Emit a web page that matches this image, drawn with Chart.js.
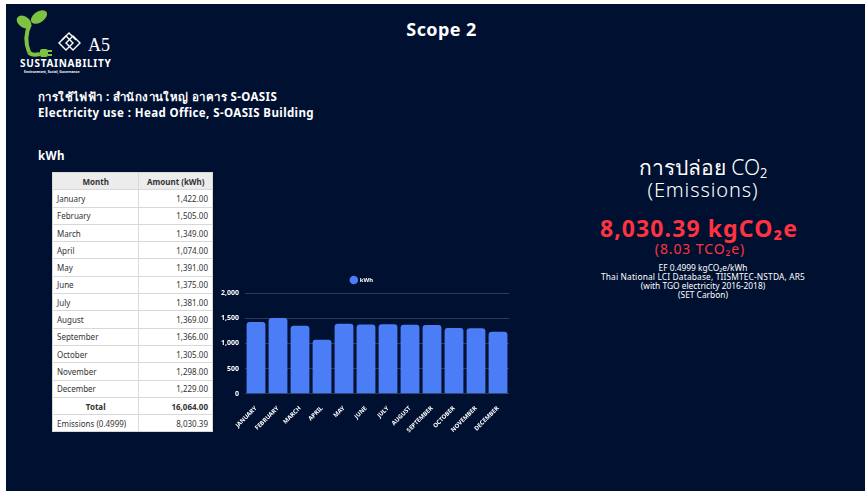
<!DOCTYPE html>
<html>
<head>
<meta charset="utf-8">
<script src="https://cdn.jsdelivr.net/npm/chart.js@4.4.0/dist/chart.umd.min.js"></script>
<style>
  html, body { margin: 0; padding: 0; background: #ffffff; }
  body { width: 865px; height: 491px; position: relative; overflow: hidden; font-family: "Noto Sans", "Open Sans", sans-serif; }
  #panel { position: absolute; left: 6px; top: 4px; width: 859px; height: 487px; background: #001030; color: #fff; }
  .abs { position: absolute; }
  #title { left: 0; width: 871px; top: 13px; text-align: center; font-size: 18px; font-weight: 700; letter-spacing: 0.4px; }
  .head { left: 32px; font-size: 11.5px; font-weight: 700; letter-spacing: 0.4px; }
  table { border-collapse: collapse; background: #fff; color: #333; font-size: 8px; }
  td, th { border: 1px solid #d8d8d8; height: 16.3px; padding: 0 4px; }
  th { background: #ececec; font-weight: 700; }
  .r { text-align: right; }
  .c { text-align: center; }
  .rt { left: 560px; width: 274px; text-align: center; white-space: nowrap; }
  .small { font-size: 8.4px; line-height: 9px; }
  #chartBox { left: 209px; top: 263px; width: 294px; height: 170px; }
</style>
</head>
<body>
<div id="panel">
  <svg class="abs" style="left:10px;top:6px" width="112" height="64" viewBox="0 0 112 64">
    <path d="M13 42 C9 32 10 22 14 14" stroke="#7dc242" stroke-width="4" fill="none"/>
    <ellipse cx="8" cy="12" rx="8" ry="5.5" fill="#7dc242" transform="rotate(35 8 12)"/>
    <ellipse cx="23" cy="7" rx="9" ry="5.5" fill="#7dc242" transform="rotate(-35 23 7)"/>
    <path d="M13 42 Q15 46 24 44" stroke="#7dc242" stroke-width="4" fill="none"/>
    <rect x="24" y="39" width="8" height="8" rx="2" fill="#7dc242"/>
    <rect x="32" y="40" width="4" height="2" fill="#7dc242"/>
    <rect x="32" y="44" width="4" height="2" fill="#7dc242"/>
    <g stroke="#fff" stroke-width="1.4" fill="none">
      <path d="M43 33 l7 -7 l7 7 l-7 7 z"/>
      <path d="M50 33 l7 -7 l7 7 l-7 7 z"/>
      <path d="M46 30 l7 -7 l7 7"/>
    </g>
    <text x="72" y="41" fill="#fff" font-family="Liberation Serif, serif" font-size="18">A5</text>
    <text x="4" y="57" fill="#fff" font-size="10" font-weight="700" letter-spacing="0.7">SUSTAINABILITY</text>
    <text x="8" y="62.5" fill="#fff" font-size="3.4" font-weight="700">Environment, Social, Governance</text>
  </svg>
  <div id="title" class="abs">Scope 2</div>
  <div class="abs head" style="top:84px">การใช้ไฟฟ้า : สำนักงานใหญ่ อาคาร S-OASIS</div>
  <div class="abs head" style="top:101px">Electricity use : Head Office, S-OASIS Building</div>
  <div class="abs head" style="top:144px">kWh</div>

  <table id="tbl" class="abs" style="left:46px;top:168px;width:161px"></table>

  <div id="chartBox" class="abs"><canvas id="kwh-chart"></canvas></div>

  <div class="abs rt" style="top:151px;font-size:21px;font-weight:300;line-height:24px">การปล่อย CO₂</div>
  <div class="abs rt" style="top:175px;font-size:20px;font-weight:300;line-height:22px;letter-spacing:0.9px">(Emissions)</div>
  <div class="abs rt" style="top:212px;color:#ff3340;font-size:23px;font-weight:700;line-height:25px;letter-spacing:1.1px;left:556px">8,030.39 kgCO₂e</div>
  <div class="abs rt" style="top:237px;color:#ff3340;font-size:14px;line-height:16px;letter-spacing:0.9px;left:557px">(8.03 TCO₂e)</div>
  <div class="abs rt small" style="top:259px">EF 0.4999 kgCO₂e/kWh</div>
  <div class="abs rt small" style="top:268px;letter-spacing:0.15px">Thai National LCI Database, TIISMTEC-NSTDA, AR5</div>
  <div class="abs rt small" style="top:277px">(with TGO electricity 2016-2018)</div>
  <div class="abs rt small" style="top:286px">(SET Carbon)</div>
</div>
<script>
const months = ['January', 'February', 'March', 'April', 'May', 'June', 'July', 'August', 'September', 'October', 'November', 'December'];
const kwh = [1422, 1505, 1349, 1074, 1391, 1375, 1381, 1369, 1366, 1305, 1298, 1229];
const totalKwh = 16064.00;
const emissionFactor = 0.4999;
const emissions = 8030.39;
const yTicks = [0, 500, 1000, 1500, 2000];

const fmt = v => v.toLocaleString('en-US', { minimumFractionDigits: 2, maximumFractionDigits: 2 });

// table
let html = '<tr><th>Month</th><th>Amount (kWh)</th></tr>';
months.forEach((m, i) => {
    html += `<tr><td>${m}</td><td class="r">${fmt(kwh[i])}</td></tr>`;
});
html += `<tr><td class="c" style="font-weight:700">Total</td><td class="r" style="font-weight:700">${fmt(totalKwh)}</td></tr>`;
html += `<tr><td>Emissions (${emissionFactor})</td><td class="r">${fmt(emissions)}</td></tr>`;
document.getElementById('tbl').innerHTML = html;

// chart
const ctx = document.getElementById('kwh-chart').getContext('2d');
new Chart(ctx, {
    type: 'bar',
    data: {
        labels: months.map(m => m.toUpperCase()),
        datasets: [{
            label: 'kWh',
            data: kwh,
            backgroundColor: '#4b7ef6',
            borderRadius: 3,
            borderSkipped: 'bottom',
            barPercentage: 0.9,
            categoryPercentage: 0.95
        }]
    },
    options: {
        responsive: true,
        maintainAspectRatio: false,
        animation: false,
        layout: { padding: 0 },
        plugins: {
            legend: {
                labels: {
                    color: '#ffffff',
                    usePointStyle: true,
                    pointStyle: 'circle',
                    boxWidth: 6,
                    boxHeight: 6,
                    font: { size: 6, weight: 'bold', family: 'Noto Sans' }
                }
            },
            tooltip: { enabled: false }
        },
        scales: {
            y: {
                min: 0,
                max: 2000,
                afterBuildTicks: axis => { axis.ticks = yTicks.map(v => ({ value: v })); },
                grid: { color: 'rgba(255,255,255,0.18)', drawTicks: false },
                border: { display: false },
                ticks: { color: '#ffffff', padding: 6, font: { size: 7, weight: 'bold', family: 'Noto Sans' } }
            },
            x: {
                grid: { display: false },
                border: { display: false },
                ticks: { color: '#ffffff', maxRotation: 45, minRotation: 45, font: { size: 6, weight: 'bold', family: 'Noto Sans' } }
            }
        }
    }
});
</script>
</body>
</html>
